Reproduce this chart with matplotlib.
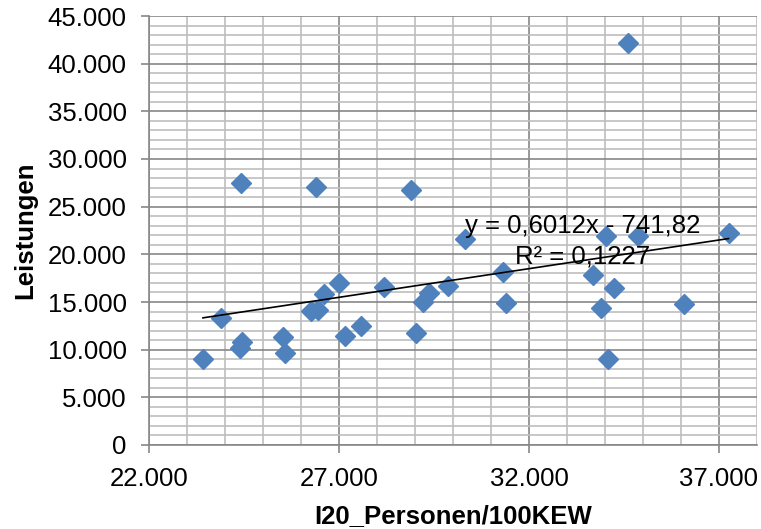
import matplotlib.pyplot as plt
from matplotlib.ticker import MultipleLocator, FuncFormatter

plt.rcParams['font.family'] = ['Liberation Sans', 'DejaVu Sans']

# Werte
personen = [23420, 23900, 24420, 24400, 24450, 25530, 25590, 26400, 26260, 26460,
            26610, 27010, 27150, 27590, 28180, 28900, 29030, 29220, 29380, 29870,
            30320, 31320, 31390, 33690, 34240, 33900, 34090, 36070, 34030, 34860,
            37250, 34600]
leistungen = [9020, 13320, 27480, 10140, 10840, 11300, 9680, 27060, 14060, 14160,
              15870, 16960, 11470, 12480, 16540, 26750, 11780, 15030, 15910, 16680,
              21580, 18180, 14860, 17830, 16500, 14400, 8990, 14760, 21960, 21960,
              22270, 42140]

# lineare Trendlinie (Koeffizienten aus der Beschriftung)
steigung = 0.6012
achsenabschnitt = -741.82
r2 = 0.1227

fig = plt.figure(figsize=(7.61, 5.29), dpi=100)
ax = fig.add_axes([149 / 761, 84 / 529, 608 / 761, 429 / 529])

ax.plot(personen, leistungen, linestyle='none', marker='D', markersize=10,
        color='#4F81BD', zorder=3)

tx = [min(personen), max(personen)]
ty = [steigung * v + achsenabschnitt for v in tx]
ax.plot(tx, ty, color='black', linewidth=1.2, zorder=4)

ax.set_xlim(22000, 38000)
ax.set_ylim(0, 45000)
ax.xaxis.set_major_locator(MultipleLocator(5000, offset=2000))
ax.xaxis.set_minor_locator(MultipleLocator(1000))
ax.yaxis.set_major_locator(MultipleLocator(5000))
ax.yaxis.set_minor_locator(MultipleLocator(1000))

fmt = FuncFormatter(lambda v, p: f"{v:,.0f}".replace(',', '.'))
ax.xaxis.set_major_formatter(fmt)
ax.yaxis.set_major_formatter(fmt)

ax.grid(which='major', color='#878787', linewidth=1.2, zorder=1)
ax.grid(which='minor', color='#BEBEBE', linewidth=1.2, zorder=0)
ax.set_axisbelow(True)

for s in ['top', 'right']:
    ax.spines[s].set_visible(False)
for s in ['left', 'bottom']:
    ax.spines[s].set_color('#878787')
    ax.spines[s].set_linewidth(1.2)

ax.tick_params(which='major', direction='out', length=6, width=1.2, color='#878787',
               labelsize=18.5, pad=10)
ax.tick_params(which='minor', length=0)

ax.set_xlabel('I20_Personen/100KEW', fontsize=18.5, fontweight='bold')
ax.set_ylabel('Leistungen', fontsize=18.5, fontweight='bold')
ax.xaxis.set_label_coords(0.5, -0.137)
ax.yaxis.set_label_coords(-0.184, 0.5)

# Gleichung und Bestimmtheitsmass
ax.text(33400, 22240, 'y = 0,6012x - 741,82', fontsize=18.5, ha='center',
        va='baseline', zorder=5)
ax.text(33400, 18990, 'R² = ' + f"{r2:.4f}".replace('.', ','), fontsize=18.5,
        ha='center', va='baseline', zorder=5)

fig.savefig('out.png', dpi=100)
